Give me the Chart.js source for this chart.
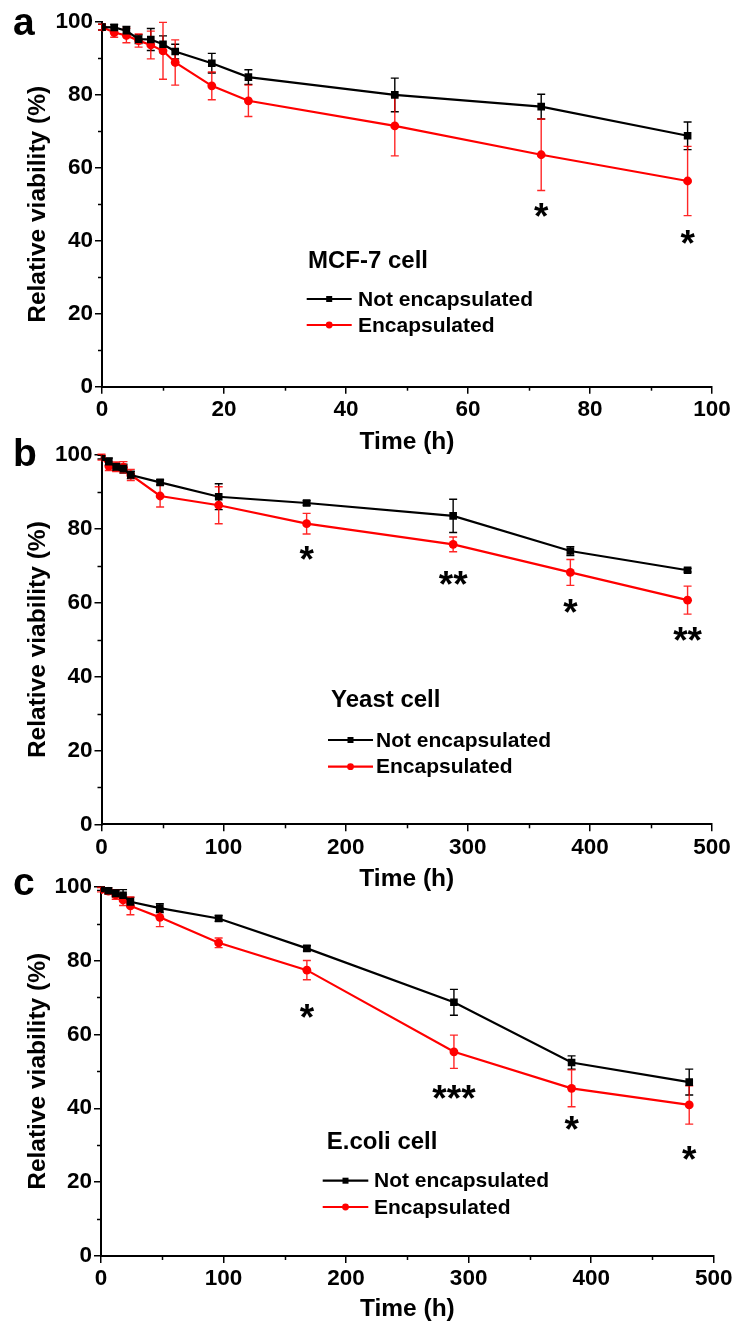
<!DOCTYPE html>
<html><head><meta charset="utf-8">
<script src="https://cdn.jsdelivr.net/npm/chart.js@4.4.1/dist/chart.umd.min.js"></script>
<style>
html,body{margin:0;padding:0;background:#fff;width:735px;height:1331px;overflow:hidden;}
canvas{position:absolute;left:0;}
</style></head><body>
<canvas id="ca" width="735" height="460" style="top:0px"></canvas>
<canvas id="cb" width="735" height="470" style="top:430px"></canvas>
<canvas id="cc" width="735" height="471" style="top:860px"></canvas>
<script>
// ---------- DATA ----------
const seriesNames = ['Not encapsulated', 'Encapsulated'];
const yTicks = [0, 20, 40, 60, 80, 100];

// Panel a : MCF-7 cell
const timeA = [0, 2, 4, 6, 8, 10, 12, 18, 24, 48, 72, 96];
const notEncA = [98.6, 98.5, 97.6, 95.3, 95.2, 93.9, 91.9, 88.7, 84.9, 80.0, 76.8, 68.8];
const notEncErrA = [0.8, 0.8, 1.2, 1.2, 3.0, 2.3, 2.0, 2.7, 2.0, 4.6, 3.4, 3.8];
const encA = [98.6, 97.1, 96.3, 94.9, 93.7, 92.1, 88.9, 82.5, 78.4, 71.5, 63.6, 56.4];
const encErrA = [0.8, 1.3, 2.0, 1.8, 3.8, 7.8, 6.2, 3.8, 4.3, 8.2, 9.8, 9.5];
const sigTimeA = [72, 96];
const sigTextA = ['*', '*'];
const sigValA = [49.1, 41.6];
const xTicksA = [0, 20, 40, 60, 80, 100];

// Panel b : Yeast cell
const timeB = [0, 6, 12, 18, 24, 48, 96, 168, 288, 384, 480];
const notEncB = [99.4, 98.2, 96.8, 96.3, 94.6, 92.6, 88.7, 87.0, 83.5, 74.0, 68.8];
const notEncErrB = [0.5, 1.0, 1.0, 1.2, 1.0, 0.7, 3.5, 0.6, 4.5, 1.2, 0.5];
const encB = [99.4, 97.0, 96.8, 96.7, 94.6, 88.9, 86.4, 81.4, 75.8, 68.2, 60.7];
const encErrB = [0.8, 1.2, 1.3, 1.5, 1.5, 3.0, 5.0, 2.8, 2.0, 3.5, 3.8];
const sigTimeB = [168, 288, 384, 480];
const sigTextB = ['*', '**', '*', '**'];
const sigValB = [74.1, 67.5, 59.9, 52.2];
const xTicksB = [0, 100, 200, 300, 400, 500];

// Panel c : E.coli cell
const timeC = [0, 6, 12, 18, 24, 48, 96, 168, 288, 384, 480];
const notEncC = [99.5, 98.9, 98.2, 97.7, 95.9, 94.2, 91.4, 83.3, 68.7, 52.4, 47.1];
const notEncErrC = [0.5, 0.8, 1.0, 1.5, 1.2, 1.2, 0.8, 0.7, 3.5, 1.8, 3.5];
const encC = [99.2, 98.8, 97.8, 96.4, 94.8, 91.7, 84.8, 77.4, 55.3, 45.4, 40.9];
const encErrC = [0.6, 0.8, 1.2, 1.5, 2.4, 2.5, 1.3, 2.6, 4.5, 5.0, 5.2];
const sigTimeC = [168, 288, 384, 480];
const sigTextC = ['*', '***', '*', '*'];
const sigValC = [67.1, 45.0, 36.6, 28.7];
const xTicksC = [0, 100, 200, 300, 400, 500];

// ---------- STYLE ----------
const FONT = 'Arial, "Liberation Sans", Helvetica, sans-serif';
const BLACK = '#000000';
const RED = '#ff0000';
const TICK_FS = 22.5;
const TITLE_FS = 24.5;

const errorBarPlugin = {
  id: 'errorBars',
  beforeDatasetsDraw(chart) {
    const {ctx, scales: {x, y}} = chart;
    chart.data.datasets.forEach(ds => {
      if (!ds.errors) return;
      ctx.save();
      ctx.strokeStyle = ds.errorColor;
      ctx.lineWidth = 1.4;
      ds.data.forEach((p, i) => {
        const e = ds.errors[i];
        const px = x.getPixelForValue(p.x);
        const t = y.getPixelForValue(p.y + e);
        const b = y.getPixelForValue(p.y - e);
        ctx.beginPath();
        ctx.moveTo(px, t); ctx.lineTo(px, b);
        ctx.moveTo(px - 4, t); ctx.lineTo(px + 4, t);
        ctx.moveTo(px - 4, b); ctx.lineTo(px + 4, b);
        ctx.stroke();
      });
      ctx.restore();
    });
  }
};

const decorPlugin = {
  id: 'decor',
  afterDraw(chart, args, o) {
    const {ctx, chartArea: ca, scales: {x, y}} = chart;
    ctx.save();
    // minor ticks
    ctx.strokeStyle = BLACK; ctx.lineWidth = 1.5;
    o.yMinor.forEach(v => {
      const py = Math.round(y.getPixelForValue(v)) + 0.5;
      ctx.beginPath(); ctx.moveTo(ca.left - 4, py); ctx.lineTo(ca.left, py); ctx.stroke();
    });
    o.xMinor.forEach(v => {
      const px = Math.round(x.getPixelForValue(v)) + 0.5;
      ctx.beginPath(); ctx.moveTo(px, ca.bottom); ctx.lineTo(px, ca.bottom + 4); ctx.stroke();
    });
    // significance stars
    ctx.fillStyle = BLACK;
    ctx.font = 'bold 37px ' + FONT;
    ctx.textAlign = 'center'; ctx.textBaseline = 'alphabetic';
    o.sigTime.forEach((t, i) => {
      const px = x.getPixelForValue(t);
      const py = y.getPixelForValue(o.sigVal[i]);
      ctx.fillText(o.sigText[i], px, py + 21.5);
    });
    // panel letter
    ctx.font = 'bold 39px ' + FONT;
    ctx.textAlign = 'left';
    ctx.fillText(o.letter, o.letterX, o.letterY);
    // legend
    const L = o.legend;
    ctx.font = 'bold 24px ' + FONT;
    ctx.textBaseline = 'middle';
    ctx.fillText(L.title, L.titleX, L.titleY);
    ctx.font = 'bold 21px ' + FONT;
    chart.data.datasets.forEach((ds, i) => {
      const yy = L.itemY[i];
      ctx.strokeStyle = ds.borderColor; ctx.lineWidth = 2.2;
      ctx.beginPath(); ctx.moveTo(L.lineX0, yy); ctx.lineTo(L.lineX1, yy); ctx.stroke();
      const mx = (L.lineX0 + L.lineX1) / 2;
      ctx.fillStyle = ds.borderColor;
      if (ds.pointStyle === 'rect') {
        ctx.fillRect(mx - 3, yy - 3, 6, 6);
      } else {
        ctx.beginPath(); ctx.arc(mx, yy, 3.4, 0, Math.PI * 2); ctx.fill();
      }
      ctx.fillStyle = BLACK;
      ctx.fillText(ds.label, L.textX, yy + 1);
    });
    ctx.restore();
  }
};

function makePanel(id, p) {
  const toPts = (xs, ys) => xs.map((t, i) => ({x: t, y: ys[i]}));
  new Chart(document.getElementById(id), {
    type: 'line',
    data: {
      datasets: [
        {label: seriesNames[0], data: toPts(p.time, p.s1), errors: p.e1, errorColor: '#000',
         borderColor: BLACK, backgroundColor: BLACK, borderWidth: 2.2, pointStyle: 'rect',
         pointRadius: 5.4, pointBorderWidth: 0, tension: 0, fill: false},
        {label: seriesNames[1], data: toPts(p.time, p.s2), errors: p.e2, errorColor: 'rgba(255,0,0,0.85)',
         borderColor: RED, backgroundColor: RED, borderWidth: 2.2, pointStyle: 'circle',
         pointRadius: 4.4, pointBorderWidth: 0, tension: 0, fill: false}
      ]
    },
    options: {
      responsive: false, animation: false, devicePixelRatio: 1,
      layout: {padding: p.pad},
      plugins: {
        legend: {display: false}, tooltip: {enabled: false},
        decor: {yMinor: [10, 30, 50, 70, 90], xMinor: p.xMinor,
                sigTime: p.sigTime, sigText: p.sigText, sigVal: p.sigVal,
                letter: p.letter, letterX: 13, letterY: p.letterY, legend: p.legend}
      },
      scales: {
        x: {
          type: 'linear', min: 0, max: p.xMax,
          afterBuildTicks: s => { s.ticks = p.xTicks.map(v => ({value: v})); },
          afterFit: s => { s.height = p.xH; },
          grid: {drawOnChartArea: false, drawTicks: true, tickLength: 7, color: BLACK, lineWidth: 1.5},
          border: {display: true, color: BLACK, width: 2},
          ticks: {color: BLACK, padding: 2.5, maxRotation: 0, font: {family: FONT, size: TICK_FS, weight: 'bold'}},
          title: {display: true, text: 'Time (h)', color: BLACK, padding: {top: 0, bottom: p.xTitlePad},
                  font: {family: FONT, size: TITLE_FS, weight: 'bold'}}
        },
        y: {
          type: 'linear', min: 0, max: 100,
          afterBuildTicks: s => { s.ticks = yTicks.map(v => ({value: v})); },
          afterFit: s => { s.width = p.yW; },
          grid: {drawOnChartArea: false, drawTicks: true, tickLength: 7, color: BLACK, lineWidth: 1.5},
          border: {display: true, color: BLACK, width: 2},
          ticks: {color: BLACK, padding: 2, font: {family: FONT, size: TICK_FS, weight: 'bold'}},
          title: {display: true, text: 'Relative viability (%)', color: BLACK, padding: {top: 23.3, bottom: 0},
                  font: {family: FONT, size: TITLE_FS, weight: 'bold'}}
        }
      }
    },
    plugins: [errorBarPlugin, decorPlugin]
  });
}

makePanel('ca', {
  time: timeA, s1: notEncA, e1: notEncErrA, s2: encA, e2: encErrA,
  sigTime: sigTimeA, sigText: sigTextA, sigVal: sigValA,
  xMax: 100, xTicks: xTicksA, xMinor: [10, 30, 50, 70, 90],
  pad: {top: 22, right: 23, left: 0, bottom: 0}, yW: 102, xH: 73.3, xTitlePad: 3.3,
  letter: 'a', letterY: 35,
  legend: {title: 'MCF-7 cell', titleX: 308, titleY: 261.7, itemY: [299, 325], lineX0: 306.7, lineX1: 351.7, textX: 358}
});
makePanel('cb', {
  time: timeB, s1: notEncB, e1: notEncErrB, s2: encB, e2: encErrB,
  sigTime: sigTimeB, sigText: sigTextB, sigVal: sigValB,
  xMax: 500, xTicks: xTicksB, xMinor: [50, 150, 250, 350, 450],
  pad: {top: 25, right: 23, left: 0, bottom: 0}, yW: 101.5, xH: 75.7, xTitlePad: 6.3,
  letter: 'b', letterY: 36,
  legend: {title: 'Yeast cell', titleX: 331, titleY: 270, itemY: [310, 336.7], lineX0: 328, lineX1: 373, textX: 376}
});
makePanel('cc', {
  time: timeC, s1: notEncC, e1: notEncErrC, s2: encC, e2: encErrC,
  sigTime: sigTimeC, sigText: sigTextC, sigVal: sigValC,
  xMax: 500, xTicks: xTicksC, xMinor: [50, 150, 250, 350, 450],
  pad: {top: 26.7, right: 20, left: 0, bottom: 0}, yW: 101, xH: 75, xTitlePad: 7.3,
  letter: 'c', letterY: 35,
  legend: {title: 'E.coli cell', titleX: 326.7, titleY: 282, itemY: [320.7, 347], lineX0: 322.7, lineX1: 368.3, textX: 374}
});
</script>
</body></html>
